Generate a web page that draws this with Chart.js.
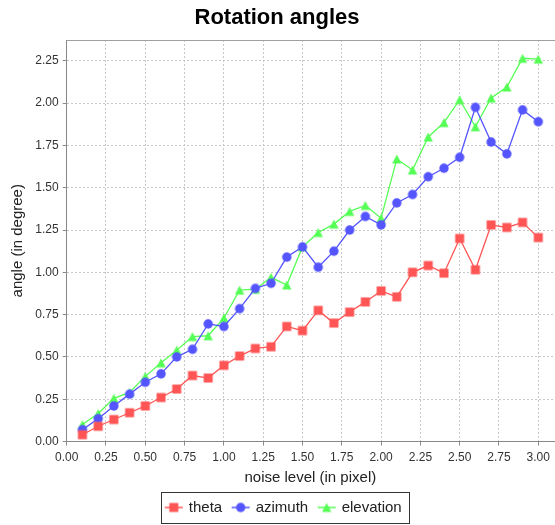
<!DOCTYPE html>
<html>
<head>
<meta charset="utf-8">
<script src="https://cdn.jsdelivr.net/npm/chart.js@4/dist/chart.umd.min.js"></script>
<style>
html,body{margin:0;padding:0;background:#fff;}
#wrap{width:555px;height:525px;}
</style>
</head>
<body>
<div id="wrap"><canvas id="c" width="555" height="525"></canvas></div>
<script>
// ---- data ----
const chartTitle = 'Rotation angles';
const xTitle = 'noise level (in pixel)';
const yTitle = 'angle (in degree)';
const seriesNames = ['theta', 'azimuth', 'elevation'];
const noiseLevels = [0.1,0.2,0.3,0.4,0.5,0.6,0.7,0.8,0.9,1.0,1.1,1.2,1.3,1.4,1.5,1.6,1.7,1.8,1.9,2.0,2.1,2.2,2.3,2.4,2.5,2.6,2.7,2.8,2.9,3.0];
const theta = [0.04,0.09,0.13,0.17,0.21,0.26,0.31,0.39,0.375,0.45,0.505,0.55,0.56,0.68,0.655,0.775,0.70,0.765,0.825,0.89,0.855,1.00,1.04,0.995,1.20,1.015,1.28,1.265,1.295,1.205];
const azimuth = [0.07,0.135,0.21,0.28,0.35,0.40,0.50,0.545,0.695,0.68,0.785,0.905,0.935,1.09,1.15,1.03,1.125,1.25,1.33,1.28,1.41,1.46,1.565,1.615,1.68,1.975,1.77,1.70,1.96,1.89];
const elevation = [0.10,0.165,0.255,0.29,0.385,0.465,0.54,0.62,0.625,0.73,0.895,0.90,0.97,0.925,1.15,1.235,1.285,1.36,1.395,1.32,1.67,1.605,1.80,1.885,2.02,1.86,2.03,2.095,2.265,2.26];
const xTickValues = [0,0.25,0.5,0.75,1.0,1.25,1.5,1.75,2.0,2.25,2.5,2.75,3.0];
const yTickValues = [0,0.25,0.5,0.75,1.0,1.25,1.5,1.75,2.0,2.25];
const xMax = 3.10;
const yMax = 2.373;

// ---- styles ----
const colors = ['#FF5555', '#5555FF', '#55FF55'];
const FONT = "'Liberation Sans', Arial, Helvetica, sans-serif";

function drawMarker(ctx, kind, cx, cy, color) {
  ctx.fillStyle = color;
  ctx.beginPath();
  if (kind === 'square') {
    ctx.rect(cx - 4.5, cy - 4.5, 9, 9);
  } else if (kind === 'circle') {
    ctx.arc(cx, cy, 4.7, 0, Math.PI * 2);
  } else {
    ctx.moveTo(cx, cy - 4.6);
    ctx.lineTo(cx + 4.7, cy + 4.6);
    ctx.lineTo(cx - 4.7, cy + 4.6);
    ctx.closePath();
  }
  ctx.fill();
}
function markerImage(kind, color) {
  const cv = document.createElement('canvas');
  cv.width = 12; cv.height = 12;
  drawMarker(cv.getContext('2d'), kind, 6, 6, color);
  return cv;
}
function legendImage(kind, color) {
  const cv = document.createElement('canvas');
  cv.width = 20; cv.height = 12;
  const g = cv.getContext('2d');
  g.strokeStyle = color; g.lineWidth = 1.5;
  g.beginPath(); g.moveTo(1, 6); g.lineTo(19, 6); g.stroke();
  drawMarker(g, kind, 10, 6, color);
  return cv;
}
const kinds = ['square', 'circle', 'triangle'];
const pointImgs = kinds.map((k, i) => markerImage(k, colors[i]));
const legendImgs = kinds.map((k, i) => legendImage(k, colors[i]));

function toPoints(ys) { return noiseLevels.map((x, i) => ({x: x, y: ys[i]})); }
const seriesValues = [theta, azimuth, elevation];

const datasets = seriesValues.map((vals, i) => ({
  label: seriesNames[i],
  data: toPoints(vals),
  borderColor: colors[i],
  backgroundColor: colors[i],
  borderWidth: 1.3,
  pointStyle: pointImgs[i],
  pointRadius: 5,
  pointHoverRadius: 5,
  pointBorderWidth: 0,
  tension: 0,
  fill: false
}));

const LEGEND_SHIFT = 7;
const bgPlugin = {
  id: 'bg',
  afterLayout(chart) {
    const lg = chart.legend;
    if (!lg) return;
    lg.left += LEGEND_SHIFT; lg.right += LEGEND_SHIFT;
    (lg.legendHitBoxes || []).forEach(h => { h.left += LEGEND_SHIFT; });
  },
  beforeDraw(chart) {
    const c = chart.ctx;
    c.save(); c.fillStyle = '#fff'; c.fillRect(0, 0, chart.width, chart.height); c.restore();
  },
  beforeDatasetsDraw(chart) {
    const a = chart.chartArea, c = chart.ctx;
    c.save();
    c.strokeStyle = '#a0a0a0'; c.lineWidth = 1;
    c.beginPath();
    c.moveTo(a.left, a.top + 0.5); c.lineTo(chart.width, a.top + 0.5);
    c.stroke();
    c.restore();
  },
  afterDraw(chart) {
    const lg = chart.legend;
    if (!lg || !lg.legendHitBoxes || !lg.legendHitBoxes.length) return;
    const hb = lg.legendHitBoxes;
    const first = hb[0], last = hb[hb.length - 1];
    const left = Math.round(first.left + 7.5 - 10 - 3) + 0.5;
    const right = Math.round(last.left + last.width + 7) + 0.5;
    const cy = first.top + first.height / 2;
    const top = Math.round(cy - 15.5) + 0.5;
    const bottom = Math.round(cy + 15.5) + 0.5;
    const c = chart.ctx;
    c.save();
    c.strokeStyle = '#333'; c.lineWidth = 1;
    c.strokeRect(left, top, right - left, bottom - top);
    c.restore();
  }
};

new Chart(document.getElementById('c'), {
  type: 'line',
  data: { datasets: datasets },
  plugins: [bgPlugin],
  options: {
    responsive: false,
    animation: false,
    devicePixelRatio: 1,
    layout: { autoPadding: false, padding: { left: 0, right: 1, top: 0, bottom: 0 } },
    plugins: {
      title: {
        display: true, text: chartTitle, color: '#000',
        font: { family: FONT, size: 22, weight: 'bold' },
        padding: { top: 5, bottom: 8.6 }
      },
      legend: {
        display: true, position: 'bottom', align: 'center',
        labels: {
          usePointStyle: true,
          color: '#222',
          font: { family: FONT, size: 15 },
          padding: 11,
          generateLabels(chart) {
            return chart.data.datasets.map((ds, i) => ({
              text: ds.label, fillStyle: ds.backgroundColor, strokeStyle: ds.borderColor,
              lineWidth: 0, pointStyle: legendImgs[i], hidden: false, datasetIndex: i, fontColor: '#222'
            }));
          }
        }
      },
      tooltip: { enabled: false }
    },
    scales: {
      x: {
        type: 'linear', min: 0, max: xMax,
        afterBuildTicks(s) { s.ticks = xTickValues.map(v => ({value: v})); },
        afterFit(s) { s.height = 47.5; s.paddingRight = 0; s.paddingLeft = 0; },
        ticks: {
          autoSkip: false, maxRotation: 0, minRotation: 0, padding: 5, color: '#333',
          font: { family: FONT, size: 12 },
          callback: v => Number(v).toFixed(2)
        },
        grid: { color: '#c8c8c8', lineWidth: 1, drawTicks: true, tickLength: 4, tickColor: '#888', tickWidth: 1 },
        border: { display: true, color: '#888', width: 1, dash: [2, 2] },
        title: { display: true, text: xTitle, color: '#222', font: { family: FONT, size: 15 }, padding: { top: 0, bottom: 2 } }
      },
      y: {
        type: 'linear', min: 0, max: yMax,
        afterBuildTicks(s) { s.ticks = yTickValues.map(v => ({value: v})); },
        afterFit(s) { s.width = 66.7; },
        ticks: {
          autoSkip: false, padding: 4, color: '#333',
          font: { family: FONT, size: 12 },
          callback: v => Number(v).toFixed(2)
        },
        grid: { color: '#c8c8c8', lineWidth: 1, drawTicks: true, tickLength: 4, tickColor: '#888', tickWidth: 1 },
        border: { display: true, color: '#888', width: 1, dash: [2, 2] },
        title: { display: true, text: yTitle, color: '#222', font: { family: FONT, size: 15 }, padding: { top: 9, bottom: 0 } }
      }
    }
  }
});
</script>
</body>
</html>
